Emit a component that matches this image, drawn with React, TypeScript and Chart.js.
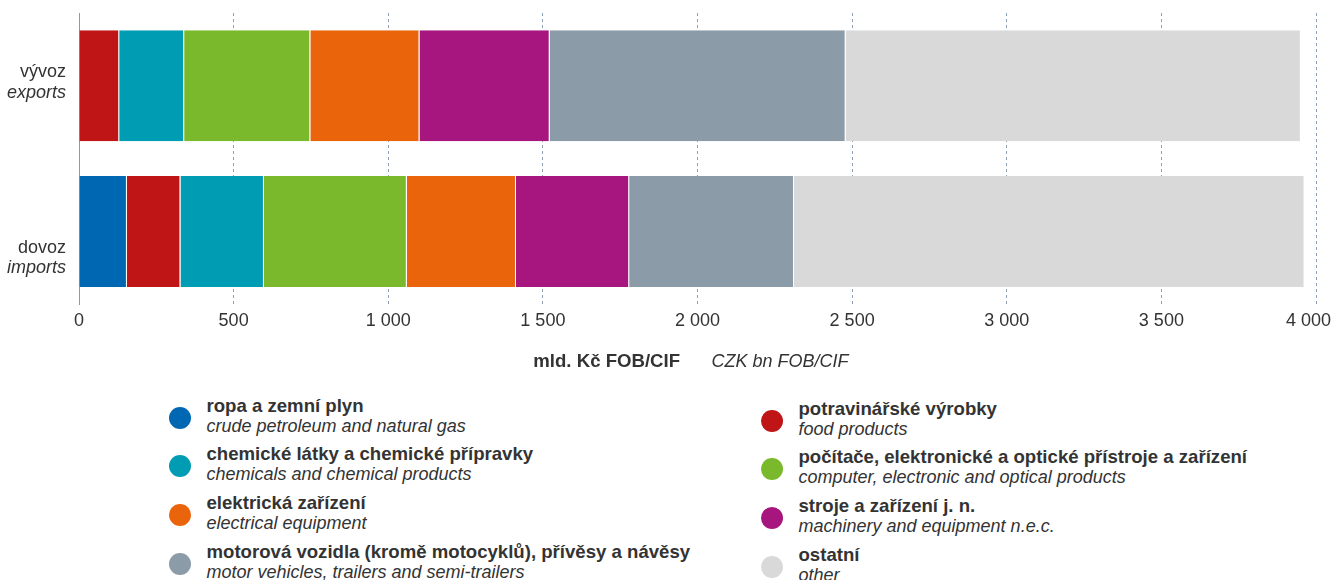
import React, { useEffect, useRef } from 'react';
import { Chart, registerables } from 'chart.js';

Chart.register(...registerables);

// ---- data ----
const categoriesCz = ['vývoz', 'dovoz'];
const categoriesEn = ['exports', 'imports'];

const seriesCz = [
  'ropa a zemní plyn',
  'potravinářské výrobky',
  'chemické látky a chemické přípravky',
  'počítače, elektronické a optické přístroje a zařízení',
  'elektrická zařízení',
  'stroje a zařízení j. n.',
  'motorová vozidla (kromě motocyklů), přívěsy a návěsy',
  'ostatní',
];
const seriesEn = [
  'crude petroleum and natural gas',
  'food products',
  'chemicals and chemical products',
  'computer, electronic and optical products',
  'electrical equipment',
  'machinery and equipment n.e.c.',
  'motor vehicles, trailers and semi-trailers',
  'other',
];
const seriesColors = ['#0068b3', '#c01517', '#009cb4', '#7ab92c', '#ea640c', '#a6167e', '#8b9ba8', '#d9d9d9'];

const crudeValues = [0, 155];
const foodValues = [130, 173];
const chemicalsValues = [210, 270];
const computersValues = [408, 462];
const electricalValues = [353, 353];
const machineryValues = [421, 366];
const motorValues = [957, 533];
const otherValues = [1472, 1651];

const seriesValues = [
  crudeValues,
  foodValues,
  chemicalsValues,
  computersValues,
  electricalValues,
  machineryValues,
  motorValues,
  otherValues,
];

const xMin = 0;
const xMax = 4000;
const xStep = 500;
const axisTitleCz = 'mld. Kč FOB/CIF';
const axisTitleEn = 'CZK bn FOB/CIF';

const FONT = '"Liberation Sans", Arial, Helvetica, sans-serif';
const TEXT = '#333333';

const formatTick = (v: number) => String(v).replace(/\B(?=(\d{3})+(?!\d))/g, ' ');

const labelsPlugin = {
  id: 'customLabels',
  afterDraw(chart: any) {
    const { ctx, chartArea } = chart;
    const yScale = chart.scales.y;
    ctx.save();
    ctx.fillStyle = TEXT;
    ctx.textBaseline = 'alphabetic';
    ctx.textAlign = 'right';
    const offs = [
      [-8.5, 12.5],
      [21.5, 41.5],
    ];
    categoriesCz.forEach((c, i) => {
      const py = yScale.getPixelForValue(i);
      ctx.font = `18px ${FONT}`;
      ctx.fillText(c, chartArea.left - 13, py + offs[i][0]);
      ctx.font = `italic 18px ${FONT}`;
      ctx.fillText(categoriesEn[i], chartArea.left - 13, py + offs[i][1]);
    });
    const cx = (chartArea.left + chartArea.right) / 2;
    const ty = chartArea.bottom + 63;
    ctx.textAlign = 'right';
    ctx.font = `bold 18.6px ${FONT}`;
    ctx.fillText(axisTitleCz, cx - 17.5, ty);
    ctx.textAlign = 'left';
    ctx.font = `italic 18px ${FONT}`;
    ctx.fillText(axisTitleEn, cx + 14, ty);
    ctx.restore();
  },
};

function ChartCanvas() {
  const ref = useRef<HTMLCanvasElement | null>(null);
  useEffect(() => {
    if (!ref.current) return;
    Chart.defaults.font.family = FONT;
    const chart = new Chart(ref.current, {
      type: 'bar',
      data: {
        labels: categoriesCz,
        datasets: seriesCz.map((name, i) => ({
          label: name,
          data: seriesValues[i],
          backgroundColor: seriesColors[i],
          borderColor: '#ffffff',
          borderWidth: { left: 0, right: 1, top: 0, bottom: 0 },
          borderSkipped: false,
          barPercentage: 0.762,
          categoryPercentage: 1,
        })),
      },
      options: {
        indexAxis: 'y',
        responsive: false,
        animation: false,
        layout: { padding: { left: 79, right: 18, top: 13, bottom: 42 } },
        plugins: { legend: { display: false }, tooltip: { enabled: false } },
        scales: {
          x: {
            stacked: true,
            min: xMin,
            max: xMax,
            ticks: {
              stepSize: xStep,
              color: TEXT,
              font: { size: 18, family: FONT },
              padding: 6,
              maxRotation: 0,
              autoSkip: false,
              callback: (v: any, idx: number, ticks: any[]) =>
                idx === ticks.length - 1 ? formatTick(Number(v)) + '   ' : formatTick(Number(v)),
            },
            grid: {
              color: (c: any) => (c.index === 0 ? 'rgba(0,0,0,0)' : '#8fa0b3'),
              drawTicks: false,
              lineWidth: 1,
            },
            border: { display: false, dash: [3, 3] },
            afterFit: (s: any) => {
              s.paddingRight = 0;
            },
          },
          y: {
            stacked: true,
            ticks: { display: false },
            grid: { display: false, drawTicks: false },
            border: { display: true, color: '#8c99a6', width: 1 },
          },
        },
      } as any,
      plugins: [labelsPlugin],
    });
    return () => chart.destroy();
  }, []);
  return <canvas ref={ref} width={1334} height={380} style={{ display: 'block' }} />;
}

function Legend() {
  const items = seriesCz.map((name, i) => {
    const col = i % 2;
    const row = Math.floor(i / 2);
    const top = (col === 0 ? 394.5 : 397.5) + row * 48.7;
    const textLeft = col === 0 ? 206.5 : 798.5;
    const circleLeft = col === 0 ? 169 : 761;
    return (
      <React.Fragment key={name}>
        <div
          style={{
            position: 'absolute',
            left: circleLeft,
            top: top + 12,
            width: 22,
            height: 22,
            borderRadius: '50%',
            background: seriesColors[i],
          }}
        />
        <div
          style={{
            position: 'absolute',
            left: textLeft,
            top,
            whiteSpace: 'nowrap',
            fontSize: 18,
            lineHeight: '21px',
            color: TEXT,
          }}
        >
          <div style={{ fontWeight: 700, fontSize: 18.6 }}>{name}</div>
          <div style={{ fontStyle: 'italic' }}>{seriesEn[i]}</div>
        </div>
      </React.Fragment>
    );
  });
  return <>{items}</>;
}

export default function App() {
  return (
    <div
      style={{
        position: 'absolute',
        left: 0,
        top: 0,
        width: 1334,
        height: 580,
        overflow: 'hidden',
        background: '#ffffff',
        fontFamily: FONT,
      }}
    >
      <ChartCanvas />
      <Legend />
    </div>
  );
}
